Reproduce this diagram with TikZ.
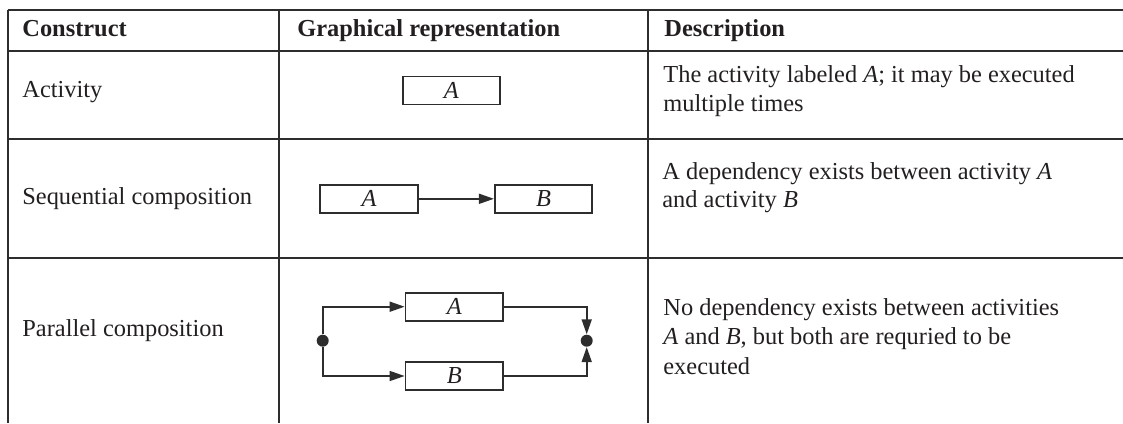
\documentclass[tikz,border=0pt]{standalone}
\usepackage{fontspec}
\setmainfont{Liberation Serif}
\usetikzlibrary{arrows.meta}
\definecolor{rule}{RGB}{45,45,45}
\definecolor{ink}{RGB}{35,31,32}
\begin{document}
\begin{tikzpicture}[x=0.5pt,y=-0.5pt,
  every node/.style={font=\fontsize{12.2}{14.6}\selectfont, text=ink, inner sep=0pt},
  grid/.style={draw=rule, line width=1pt},
  cell/.style={anchor=base west},
  head/.style={anchor=base west, font=\fontsize{12.2}{14.6}\selectfont\bfseries},
  actbox/.style={draw=rule, line width=0.9pt, minimum width=48.7pt, minimum height=14pt, font=\fontsize{12.2}{14.6}\selectfont\itshape},
  conn/.style={draw=rule, line width=0.8pt},
  arr/.style={conn, -{Triangle[length=7.5pt,width=5pt]}},
  dot/.style={circle, fill=rule, minimum size=6pt, inner sep=0pt}
]
\useasboundingbox (0,0) rectangle (1123,423);
% table rules
\draw[grid] (7.5,10) -- (1123,10);
\draw[grid] (7.5,50.5) -- (1123,50.5);
\draw[grid] (7.5,138.5) -- (1123,138.5);
\draw[grid] (7.5,257.5) -- (1123,257.5);
\draw[grid] (7.5,10) -- (7.5,423);
\draw[grid] (278.5,10) -- (278.5,423);
\draw[grid] (648,10) -- (648,423);
% header
\node[head] (h1) at (22,36) {Construct};
\node[head] (h2) at (297,36) {Graphical representation};
\node[head] (h3) at (664,36) {Description};
% first column
\node[cell] (c1) at (22,97.3) {Activity};
\node[cell] (c2) at (22,204) {Sequential composition};
\node[cell] (c3) at (22,336) {Parallel composition};
% descriptions
\node[cell] (d1a) at (663,82.7) {The activity labeled \textit{A}; it may be executed};
\node[cell] (d1b) at (663,111.2) {multiple times};
\node[cell] (d2a) at (662,179.5) {A dependency exists between activity \textit{A}};
\node[cell] (d2b) at (662,207) {and activity \textit{B}};
\node[cell] (d3a) at (663,315) {No dependency exists between activities};
\node[cell] (d3b) at (663,344.5) {\textit{A} and \textit{B}, but both are requried to be};
\node[cell] (d3c) at (663,374) {executed};
% row 1
\node[actbox] (r1a) at (451.3,90.5) {A};
% row 2
\node[actbox] (r2a) at (369,198.8) {A};
\node[actbox] (r2b) at (543.5,198.8) {B};
\draw[arr] (r2a.east) -- (r2b.west);
% row 3
\node[actbox] (r3a) at (454.2,306.7) {A};
\node[actbox] (r3b) at (454.2,376) {B};
\node[dot] (dl) at (322.7,340.7) {};
\node[dot] (dr) at (586.7,340.7) {};
\draw[arr] (dl) |- (r3a.west);
\draw[arr] (dl) |- (r3b.west);
\draw[arr] (r3a.east) -| (dr);
\draw[arr] (r3b.east) -| (dr);
\end{tikzpicture}
\end{document}
